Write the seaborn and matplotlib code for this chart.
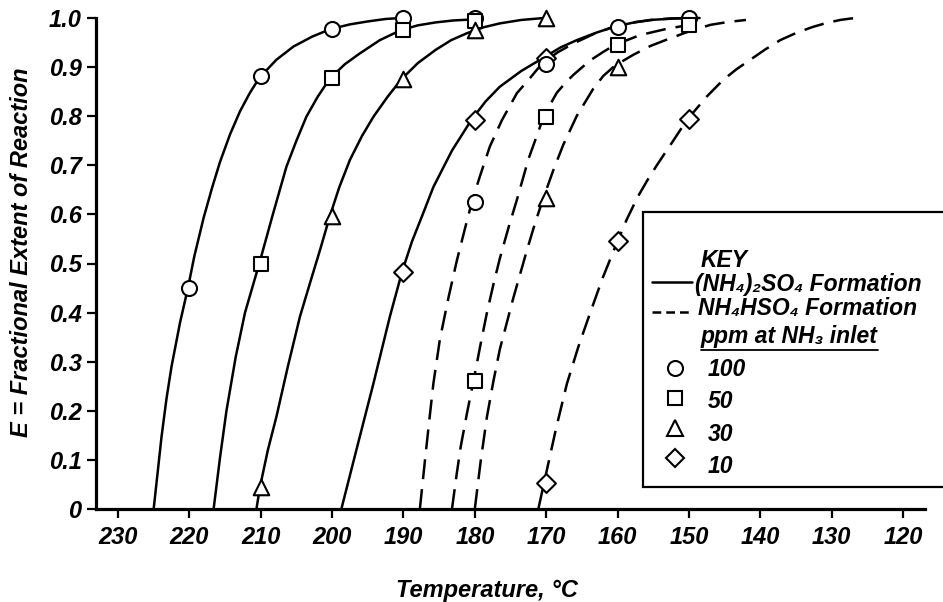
import matplotlib
matplotlib.use("Agg")
import numpy as np
import pandas as pd
import matplotlib.pyplot as plt
import seaborn as sns
from matplotlib.patches import Rectangle
from matplotlib.lines import Line2D

# ---------------- data ----------------
# Curve traces: temperature (deg C) and fractional extent E
so4_100_T = [225.0, 224.4, 223.9, 223.2, 222.5, 221.3, 220.2, 219.3, 218.0, 216.8, 215.7, 214.3,
             212.9, 211.5, 210.2, 207.8, 205.4, 202.8, 200.3, 197.5, 195.0, 192.5, 190.3]
so4_100_E = [0.0, 0.08, 0.147, 0.225, 0.29, 0.38, 0.45, 0.515, 0.593, 0.655, 0.707, 0.763,
             0.81, 0.848, 0.878, 0.915, 0.942, 0.962, 0.977, 0.987, 0.993, 0.998, 1.0]

so4_50_T = [216.6, 215.7, 214.8, 213.5, 212.2, 210.2, 208.3, 206.4, 205.0, 203.6, 202.0, 200.3,
            198.2, 196.1, 193.3, 190.4, 188.0, 185.5, 183.0, 180.3]
so4_50_E = [0.0, 0.105, 0.2, 0.31, 0.40, 0.50, 0.60, 0.697, 0.75, 0.799, 0.84, 0.877,
            0.906, 0.928, 0.955, 0.975, 0.985, 0.991, 0.995, 0.997]

so4_30_T = [210.6, 210.1, 209.0, 207.8, 206.2, 204.5, 203.1, 201.7, 200.3, 199.0, 197.5, 195.8,
            194.2, 192.2, 190.3, 188.0, 185.5, 183.3, 181.1, 178.8, 176.5, 173.5, 170.3]
so4_30_E = [0.0, 0.045, 0.12, 0.188, 0.29, 0.392, 0.46, 0.527, 0.597, 0.655, 0.711, 0.76,
            0.799, 0.84, 0.875, 0.908, 0.935, 0.955, 0.969, 0.981, 0.989, 0.996, 1.0]

so4_10_T = [198.7, 196.6, 194.2, 191.9, 190.2, 188.8, 187.3, 185.8, 183.2, 180.5, 178.5, 176.5,
            173.5, 170.5, 168.0, 165.7, 163.0, 160.5, 158.0, 155.4, 152.0, 148.5]
so4_10_E = [0.0, 0.12, 0.256, 0.392, 0.483, 0.545, 0.60, 0.656, 0.73, 0.792, 0.83, 0.86,
            0.892, 0.918, 0.94, 0.955, 0.97, 0.982, 0.99, 0.996, 0.999, 1.0]

hso4_100_T = [187.7, 187.0, 186.4, 185.8, 184.9, 183.7, 182.5, 181.4, 180.4, 179.3, 177.9, 176.2,
              174.1, 172.3, 170.6, 168.4, 166.2, 163.4, 160.6, 157.9, 155.2, 152.7, 150.3]
hso4_100_E = [0.0, 0.097, 0.178, 0.256, 0.345, 0.43, 0.507, 0.57, 0.626, 0.677, 0.738, 0.792,
              0.847, 0.877, 0.907, 0.93, 0.948, 0.967, 0.982, 0.991, 0.996, 0.999, 1.0]

hso4_50_T = [183.2, 182.6, 182.0, 181.1, 180.2, 179.2, 178.3, 177.4, 176.5, 175.3, 174.1, 172.5,
             170.5, 169.4, 168.5, 167.3, 166.2, 163.9, 162.0, 160.4, 156.9, 153.1, 150.3]
hso4_50_E = [0.0, 0.065, 0.125, 0.195, 0.26, 0.335, 0.40, 0.457, 0.51, 0.572, 0.63, 0.712,
             0.793, 0.825, 0.848, 0.868, 0.884, 0.913, 0.931, 0.945, 0.965, 0.978, 0.985]

hso4_30_T = [180.0, 179.2, 178.3, 177.4, 176.5, 174.6, 172.7, 171.5, 170.4, 169.0, 167.6, 165.7,
             163.4, 162.0, 160.6, 159.2, 157.8, 155.4, 153.1, 150.5, 147.0, 144.5, 142.0]
hso4_30_E = [0.0, 0.095, 0.188, 0.26, 0.325, 0.43, 0.527, 0.585, 0.633, 0.69, 0.742, 0.801,
             0.856, 0.882, 0.90, 0.913, 0.925, 0.943, 0.956, 0.97, 0.986, 0.992, 0.996]

hso4_10_T = [171.1, 170.2, 168.6, 167.1, 165.5, 163.9, 162.1, 160.3, 158.7, 157.2, 155.8, 154.5,
             152.2, 150.3, 147.5, 145.2, 143.3, 141.4, 139.3, 137.2, 134.9, 132.6, 130.7, 128.8,
             127.3, 125.8]
hso4_10_E = [0.0, 0.06, 0.165, 0.255, 0.33, 0.397, 0.47, 0.535, 0.59, 0.635, 0.67, 0.70,
             0.75, 0.792, 0.84, 0.874, 0.896, 0.915, 0.936, 0.955, 0.97, 0.982, 0.99, 0.996,
             0.999, 1.0]

# Measured points (markers)
mk_so4_100_T = [220, 210, 200, 190, 180]
mk_so4_100_E = [0.45, 0.882, 0.978, 1.0, 1.0]
mk_so4_50_T = [210, 200, 190, 180]
mk_so4_50_E = [0.50, 0.877, 0.975, 0.993]
mk_so4_30_T = [210, 200, 190, 180, 170]
mk_so4_30_E = [0.045, 0.597, 0.875, 0.975, 1.0]
mk_so4_10_T = [190, 180, 170]
mk_so4_10_E = [0.483, 0.792, 0.918]
mk_hso4_100_T = [180, 170, 160, 150]
mk_hso4_100_E = [0.626, 0.907, 0.982, 1.0]
mk_hso4_50_T = [180, 170, 160, 150]
mk_hso4_50_E = [0.26, 0.798, 0.945, 0.985]
mk_hso4_30_T = [170, 160]
mk_hso4_30_E = [0.633, 0.90]
mk_hso4_10_T = [170, 160, 150]
mk_hso4_10_E = [0.052, 0.545, 0.794]

x_ticks = [230, 220, 210, 200, 190, 180, 170, 160, 150, 140, 130, 120]
y_ticks = [0, 0.1, 0.2, 0.3, 0.4, 0.5, 0.6, 0.7, 0.8, 0.9, 1.0]
y_tick_labels = ["0", "0.1", "0.2", "0.3", "0.4", "0.5", "0.6", "0.7", "0.8", "0.9", "1.0"]
ppm_labels = ["100", "50", "30", "10"]

# ---------------- styling ----------------
sns.set_theme(style="ticks")
plt.rcParams["font.family"] = ["Liberation Sans", "DejaVu Sans"]
plt.rcParams["font.style"] = "italic"
plt.rcParams["font.weight"] = "bold"
for k in ["text.color", "axes.labelcolor", "xtick.color", "ytick.color", "axes.edgecolor"]:
    plt.rcParams[k] = "black"
FS = 17
LFS = 16.5

W, H = 943, 602
fig = plt.figure(figsize=(W / 100, H / 100), dpi=100)
fig.patch.set_facecolor("white")
ax = fig.add_axes([96 / W, 93 / H, 829 / W, 491 / H])
ax.set_facecolor("white")

def fx(x):
    return x / W

def fy(y):
    return 1 - y / H

DASH = (0, (8, 4))
curves = [
    (so4_100_T, so4_100_E, "-"),
    (so4_50_T, so4_50_E, "-"),
    (so4_30_T, so4_30_E, "-"),
    (so4_10_T, so4_10_E, "-"),
    (hso4_100_T, hso4_100_E, DASH),
    (hso4_50_T, hso4_50_E, DASH),
    (hso4_30_T, hso4_30_E, DASH),
    (hso4_10_T, hso4_10_E, DASH),
]
for T, E, ls in curves:
    sns.lineplot(x=T, y=E, ax=ax, color="black", linewidth=1.8, sort=False,
                 estimator=None, linestyle=ls, clip_on=False, zorder=2)

marker_sets = [
    (mk_so4_100_T, mk_so4_100_E, "o", 117),
    (mk_so4_50_T, mk_so4_50_E, "s", 100),
    (mk_so4_30_T, mk_so4_30_E, "^", 125),
    (mk_so4_10_T, mk_so4_10_E, "D", 92),
    (mk_hso4_100_T, mk_hso4_100_E, "o", 117),
    (mk_hso4_50_T, mk_hso4_50_E, "s", 100),
    (mk_hso4_30_T, mk_hso4_30_E, "^", 125),
    (mk_hso4_10_T, mk_hso4_10_E, "D", 92),
]
for T, E, m, s in marker_sets:
    sns.scatterplot(x=T, y=E, ax=ax, marker=m, s=s, color="white",
                    edgecolor="black", linewidth=1.5, zorder=3, clip_on=False)

ax.set_xlim(233.08, 116.92)
ax.set_ylim(0, 1.0)
ax.set_xticks(x_ticks)
ax.set_xticklabels([str(t) for t in x_ticks])
ax.set_yticks(y_ticks)
ax.set_yticklabels(y_tick_labels)
ax.tick_params(direction="out", length=6.5, width=1.6, color="black",
               labelsize=FS, labelcolor="black")
ax.tick_params(axis="x", pad=6)
ax.tick_params(axis="y", pad=4)
for side in ["top", "right"]:
    ax.spines[side].set_visible(False)
for side in ["left", "bottom"]:
    ax.spines[side].set_linewidth(2.3)
    ax.spines[side].set_color("black")
ax.grid(False)
ax.set_xlabel("")
ax.set_ylabel("")

# axis titles
fig.text(fx(487), fy(590), "Temperature, °C", ha="center", va="center", fontsize=FS)
fig.text(fx(22), fy(252), "E = Fractional Extent of Reaction", ha="center",
         va="center", rotation=90, fontsize=FS)

# ---------------- key box ----------------
box = Rectangle((fx(643), fy(487)), 0.5, (487 - 212) / H, transform=fig.transFigure,
                facecolor="white", edgecolor="black", linewidth=1.6, zorder=5)
fig.add_artist(box)

fig.text(fx(701), fy(267), "KEY", ha="left", va="baseline", fontsize=LFS, zorder=6)
fig.text(fx(695), fy(291), "(NH₄)₂SO₄ Formation", ha="left", va="baseline", fontsize=LFS, zorder=6)
fig.text(fx(698), fy(315), "NH₄HSO₄ Formation", ha="left", va="baseline", fontsize=LFS, zorder=6)
ppm_t = fig.text(fx(701), fy(343), "ppm at NH₃ inlet", ha="left", va="baseline", fontsize=LFS, zorder=6)

fig.add_artist(Line2D([fx(652), fx(692)], [fy(282), fy(282)], transform=fig.transFigure,
                      color="black", linewidth=1.8, zorder=6))
fig.add_artist(Line2D([fx(652), fx(692)], [fy(312), fy(312)], transform=fig.transFigure,
                      color="black", linewidth=1.8, linestyle=(0, (3.5, 2)), zorder=6))

key_markers = ["o", "s", "^", "D"]
key_msize = [10.8, 10.0, 11.0, 9.4]
key_marker_y = [368, 398, 428, 458]
key_text_y = [376, 408, 441, 473]
for m, ms, my, ty, lab in zip(key_markers, key_msize, key_marker_y, key_text_y, ppm_labels):
    fig.add_artist(Line2D([fx(675)], [fy(my)], transform=fig.transFigure, marker=m,
                          markersize=ms, markerfacecolor="white", markeredgecolor="black",
                          markeredgewidth=1.5, linestyle="none", zorder=6))
    fig.text(fx(708), fy(ty), lab, ha="left", va="baseline", fontsize=LFS, zorder=6)

fig.canvas.draw()
bb = ppm_t.get_window_extent()
fig.add_artist(Line2D([bb.x0 / W, bb.x1 / W], [fy(350), fy(350)], transform=fig.transFigure,
                      color="black", linewidth=1.3, zorder=6))

fig.savefig("out.png", dpi=100, facecolor="white")
